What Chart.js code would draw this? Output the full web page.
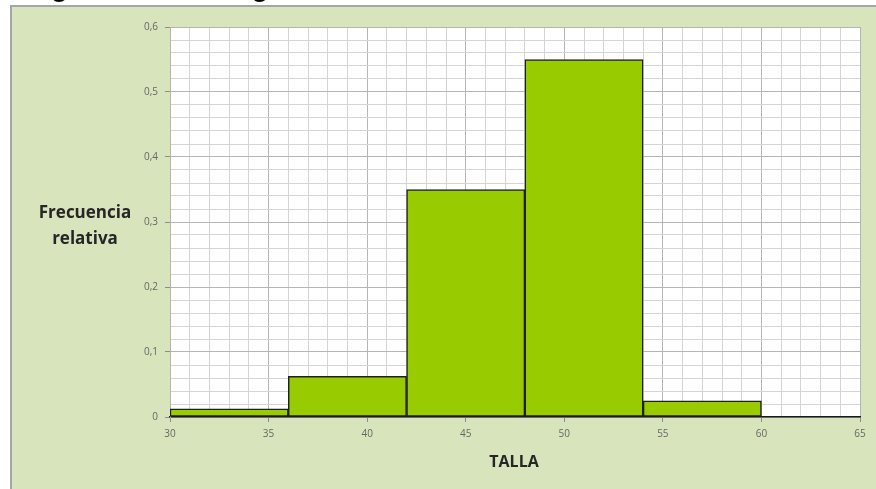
<!DOCTYPE html>
<html>
<head>
<meta charset="utf-8">
<script src="https://cdn.jsdelivr.net/npm/chart.js@4"></script>
<style>
  html, body { margin:0; padding:0; background:#fff; }
  #wrap { width:876px; height:489px; position:relative; }
</style>
</head>
<body>
<div id="wrap"><canvas id="chart"></canvas></div>
<script>
// histograma - frecuencia relativa por talla
const classStart = [30, 36, 42, 48, 54];
const classEnd   = [36, 42, 48, 54, 60];
const relFreq    = [0.0125, 0.0625, 0.35, 0.55, 0.025];
const xTicks = [30, 35, 40, 45, 50, 55, 60, 65];
const yTicks = [0, 0.1, 0.2, 0.3, 0.4, 0.5, 0.6];

const barData = classStart.map((s,i)=>({ x:(s+classEnd[i])/2, y:relFreq[i] }));

const isMajorX = v => xTicks.includes(Math.round(v));
const isMajorY = v => yTicks.some(t => Math.abs(t-v) < 1e-6);

const framePlugin = {
  id:'frame',
  beforeDraw(chart) {
    const { ctx, width, height } = chart;
    ctx.save();
    ctx.fillStyle = '#fff';
    ctx.fillRect(0,0,width,height);
    // caption cut off above the panel, only descenders show
    ctx.fillStyle = '#000';
    ctx.font = 'bold 28px "Liberation Sans", Arial, sans-serif';
    ctx.textBaseline = 'alphabetic';
    ctx.fillText('Figura 1.10 Histograma', 26, -4);
    ctx.fillStyle = '#a6a6a6';
    ctx.fillRect(10,5,width-10,2);
    ctx.fillRect(10,5,2,height-5);
    ctx.fillStyle = '#d8e4bc';
    ctx.fillRect(12,7,width-12,height-7);
    const a = chart.chartArea;
    ctx.fillStyle = '#fff';
    ctx.fillRect(a.left,a.top,a.right-a.left,a.bottom-a.top);
    ctx.restore();
  },
  afterDraw(chart) {
    const { ctx } = chart;
    ctx.save();
    ctx.fillStyle = '#262626';
    ctx.textAlign = 'center';
    ctx.textBaseline = 'middle';
    ctx.font = 'bold 17px "Open Sans", sans-serif';
    ctx.fillText('Frecuencia', 85, 213);
    ctx.fillText('relativa', 85, 239);
    ctx.font = 'bold 16px "Open Sans", sans-serif';
    ctx.fillText('TALLA', 514, 462);
    ctx.restore();
  }
};

new Chart(document.getElementById('chart'), {
  type:'bar',
  data:{
    datasets:[{
      data: barData,
      xAxisID:'xb', yAxisID:'y',
      backgroundColor:'#99cc00',
      borderColor:'#1f1f1f',
      borderWidth:1.5,
      borderSkipped:false,
      barPercentage:1, categoryPercentage:1
    }]
  },
  options:{
    responsive:true, maintainAspectRatio:false, animation:false,
    layout:{ padding:{ top:27, right:16, left:0, bottom:0 } },
    plugins:{ legend:{ display:false }, tooltip:{ enabled:false } },
    scales:{
      x:{
        type:'linear', position:'bottom', min:30, max:65, offset:false,
        afterFit: s => { s.height = 72; },
        ticks:{ stepSize:1, autoSkip:false, maxRotation:0, padding:6,
          color:'#666', font:{ family:'"Open Sans", sans-serif', size:10 },
          callback: v => isMajorX(v) ? String(Math.round(v)) : '' },
        grid:{ offset:false, lineWidth:1, tickLength:5,
          color: c => isMajorX(c.tick.value) ? '#b5b5b5' : '#d4d4d4',
          tickColor: c => isMajorX(c.tick.value) ? '#8c8c8c' : 'rgba(0,0,0,0)' },
        border:{ color:'#1a1a1a', width:1.5 }
      },
      xb:{ type:'linear', display:false, min:30, max:65, offset:false,
        ticks:{ stepSize:35 }, grid:{ offset:false } },
      y:{
        type:'linear', min:0, max:0.6,
        afterFit: s => { s.width = 170; },
        ticks:{ stepSize:0.02, autoSkip:false, padding:7,
          color:'#666', font:{ family:'"Open Sans", sans-serif', size:10 },
          callback: v => {
            if (!isMajorY(v)) return '';
            const r = Math.round(v*10)/10;
            return r===0 ? '0' : r.toFixed(1).replace('.',',');
          } },
        grid:{ lineWidth:1, tickLength:5,
          color: c => isMajorY(c.tick.value) ? '#b5b5b5' : '#d4d4d4',
          tickColor: c => isMajorY(c.tick.value) ? '#8c8c8c' : 'rgba(0,0,0,0)' },
        border:{ color:'#b5b5b5' }
      }
    }
  },
  plugins:[framePlugin]
});
</script>
</body>
</html>
